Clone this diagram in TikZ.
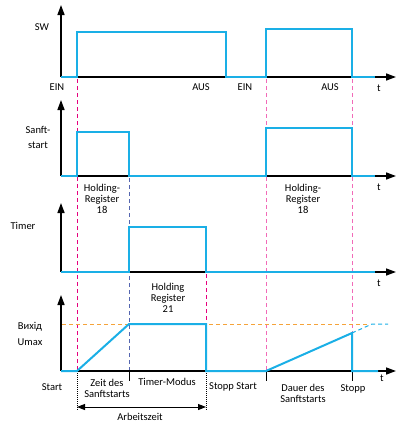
\documentclass[tikz,border=0pt]{standalone}
\usepackage{fontspec}
\setmainfont{Carlito}
\usetikzlibrary{arrows.meta}

\definecolor{sigblue}{HTML}{1AAFE6}
\definecolor{hotpink}{HTML}{F26AB8}
\definecolor{magline}{HTML}{E6007E}
\definecolor{slateline}{HTML}{5566B0}
\definecolor{refline}{HTML}{F5A33A}

\begin{document}
\begin{tikzpicture}[x=1pt,y=-1pt,
  axis/.style={-{Triangle[length=10pt,width=7pt]},line width=1.5pt},
  sig/.style={sigblue,line width=2pt},
  cut/.style={dashed,dash pattern=on 4pt off 3pt,line width=1pt},
  lbl/.style={font=\fontsize{10.5}{11}\selectfont,align=center,inner sep=0pt},
  both/.style={{Triangle[length=8pt,width=6pt]}-{Triangle[length=8pt,width=6pt]},line width=1pt}
]
\useasboundingbox (0,0) rectangle (396,423);

% markers between the panels
\draw[cut,magline] (77,79) -- (77,371);
\draw[cut,slateline] (129,178) -- (129,371);
\draw[cut,magline] (206,274) -- (206,371);
\draw[cut,hotpink] (266,79) -- (266,371);
\draw[cut,hotpink] (352,79) -- (352,371);
\draw[refline,dashed,dash pattern=on 4pt off 3pt,line width=1pt] (62,324) -- (367,324);

% axes
\foreach \b/\tp in {77/5,176/100,272/203,371/295}{
  \draw[axis] (61,\b) -- (61,\tp);
  \draw[axis] (61,\b) -- (396,\b);
}
\foreach \x in {129,266,352} \draw[line width=1pt] (\x,371) -- (\x,381);
\draw[densely dotted,line width=1pt] (77,371) -- (77,411);
\draw[densely dotted,line width=1pt] (206,371) -- (206,411);
\coordinate (work-a) at (77,407);
\coordinate (work-b) at (206,407);
\draw[both] (work-a) -- (work-b);

% signals
\draw[sig] (61,77) -- (77,77) -- (77,32) -- (226,32) -- (226,77) -- (266,77) -- (266,29) -- (352,29) -- (352,77) -- (375,77);
\draw[sig] (61,176) -- (77,176) -- (77,132) -- (129,132) -- (129,176) -- (266,176) -- (266,128) -- (352,128) -- (352,176) -- (375,176);
\draw[sig] (61,272) -- (129,272) -- (129,227) -- (206,227) -- (206,272) -- (375,272);
\draw[sig] (61,371) -- (77,371) -- (129,324) -- (206,324) -- (206,371) -- (266,371) -- (352,333) -- (352,371) -- (378,371);
\draw[sigblue,line width=1pt,dashed,dash pattern=on 4pt off 3pt] (352,333) -- (372,324) -- (388,324);

% labels
\node[lbl] (sw) at (42,27) {SW};
\node[lbl] (ein1) at (57,87) {EIN};
\node[lbl] (aus1) at (201,87) {AUS};
\node[lbl] (ein2) at (245,87) {EIN};
\node[lbl] (aus2) at (330,87) {AUS};
\node[lbl] (t1) at (379,88) {t};
\node[lbl] (soft) at (38,137) {Sanft-\\[4pt]start};
\node[lbl] (hr1) at (102,199) {Holding-\\Register\\18};
\node[lbl] (hr2) at (303,199) {Holding-\\Register\\18};
\node[lbl] (t2) at (379,187) {t};
\node[lbl] (timer) at (23,226) {Timer};
\node[lbl] (hr3) at (168,298) {Holding\\Register\\21};
\node[lbl] (t3) at (379,283) {t};
\node[lbl] (out) at (30,334) {Вихід\\[5pt]Umax};
\node[lbl] (start) at (52,387) {Start};
\node[lbl] (zeit) at (107,388) {Zeit des\\Sanftstarts};
\node[lbl] (tmode) at (167,382) {Timer-Modus};
\node[lbl] (stst) at (233,387) {Stopp Start};
\node[lbl] (dauer) at (303,393) {Dauer des\\Sanftstarts};
\node[lbl] (stopp) at (353,389) {Stopp};
\node[lbl] (t4) at (382,378) {t};
\node[lbl] (work) at (140,417) {Arbeitszeit};
\end{tikzpicture}
\end{document}
